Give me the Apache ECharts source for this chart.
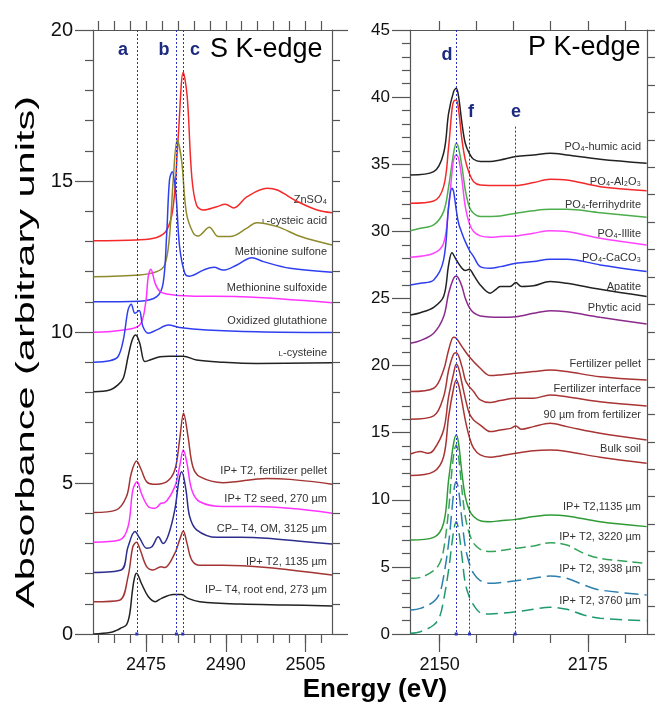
<!DOCTYPE html>
<html lang="en">
<head>
<meta charset="UTF-8">
<title>S and P K-edge XANES</title>
<script src="https://cdn.jsdelivr.net/npm/echarts@6/dist/echarts.min.js"></script>
<style>
    html, body { margin: 0; padding: 0; background: #fff; }
    #chart { width: 655px; height: 713px; }
</style>
</head>
<body>
<div id="chart"></div>
<script>
// ---------------- S K-edge spectra [energy eV, absorbance] ----------------
const znso4 = [[2465.1,13.02],[2473.2,13.05],[2477.0,13.13],[2478.9,13.38],[2480.1,14.15],[2481.05,16.47],[2482.0,18.6],[2482.74,17.79],[2483.6,15.14],[2484.5,14.2],[2485.8,14.04],[2488.3,14.15],[2489.9,14.23],[2491.5,14.11],[2494.0,14.48],[2497.8,14.76],[2499.7,14.7],[2503.5,14.32],[2507.2,14.04],[2510,13.95]];
const cysteicAcid = [[2465.1,11.83],[2473.8,11.89],[2477.0,12.0],[2478.5,12.22],[2479.4,13.16],[2480.1,15.03],[2480.85,16.36],[2481.67,15.7],[2482.6,13.93],[2483.9,13.27],[2484.8,13.18],[2486.9,13.47],[2488.6,13.16],[2490.8,13.16],[2494.0,13.44],[2495.8,13.62],[2499.7,13.49],[2504.1,13.16],[2510,12.88]];
const methSulfone = [[2465.1,11.0],[2473.8,11.02],[2477.0,11.17],[2478.2,11.61],[2478.85,13.16],[2479.4,15.03],[2479.9,15.31],[2480.6,14.59],[2481.3,12.83],[2482.3,11.94],[2483.2,11.85],[2485.8,12.05],[2487.8,12.14],[2489.5,12.05],[2492.1,12.22],[2494.9,12.46],[2497.1,12.33],[2502.1,12.11],[2510,11.98]];
const methSulfoxide = [[2465.1,9.99],[2470.7,10.07],[2473.8,10.23],[2474.9,10.95],[2475.4,11.83],[2475.9,12.08],[2476.7,11.61],[2477.6,11.34],[2478.85,11.26],[2483.2,11.19],[2492.7,11.17],[2510,10.97]];
const oxGlutathione = [[2465.1,9.0],[2468.15,9.05],[2469.7,9.18],[2470.7,9.73],[2471.6,10.73],[2472.2,10.92],[2472.9,10.62],[2473.7,10.71],[2474.4,10.18],[2475.4,9.96],[2477.0,10.07],[2479.2,10.23],[2481.3,10.15],[2486.4,10.07],[2495.8,10.01],[2510,9.98]];
const cysteine = [[2465.1,8.02],[2468.15,8.08],[2469.7,8.25],[2470.7,8.47],[2471.6,9.18],[2472.4,9.74],[2473.05,9.9],[2473.8,9.63],[2474.75,9.02],[2475.7,9.07],[2477.6,9.18],[2479.4,9.2],[2482.0,9.2],[2484.5,9.07],[2489.5,9.0],[2495.8,8.96],[2510,8.98]];
const sPellet = [[2465.1,4.02],[2469.4,4.11],[2471.3,4.55],[2472.2,5.32],[2473.2,5.73],[2474.1,5.43],[2475.1,5.04],[2476.3,4.96],[2478.85,5.04],[2480.4,5.43],[2481.3,6.42],[2482.05,7.31],[2482.9,6.53],[2483.8,5.54],[2485.1,5.21],[2489.5,5.01],[2497.7,5.15],[2502.1,5.12],[2510,4.96]];
const sSeed = [[2465.1,3.04],[2470.0,3.11],[2471.6,3.55],[2472.5,4.77],[2473.3,5.04],[2474.1,4.66],[2475.4,4.22],[2476.7,4.16],[2477.8,4.33],[2478.5,4.35],[2480.4,4.88],[2481.3,5.54],[2482.0,6.09],[2482.7,5.65],[2483.6,4.77],[2485.1,4.38],[2489.5,4.22],[2495.8,4.22],[2510,4.0]];
const sCpOm = [[2465.1,2.04],[2470.3,2.12],[2471.6,2.89],[2472.9,3.39],[2473.8,3.17],[2475.1,2.84],[2476.1,2.89],[2477.3,3.22],[2478.2,3.0],[2479.2,3.28],[2480.4,4.11],[2481.2,5.1],[2481.7,5.37],[2482.5,4.77],[2483.2,3.89],[2484.5,3.45],[2488.3,3.2],[2492.7,3.2],[2497.7,3.17],[2503.5,3.08],[2510,2.98]];
const s1135 = [[2465.1,1.07],[2470.0,1.12],[2471.6,1.9],[2472.5,2.89],[2473.2,3.04],[2473.9,2.78],[2475.1,2.23],[2476.3,2.12],[2477.8,2.23],[2478.5,2.2],[2480.4,2.67],[2481.3,3.11],[2482.0,3.41],[2482.7,3.0],[2483.6,2.45],[2485.1,2.28],[2489.5,2.28],[2497.7,2.2],[2510,1.95]];
const sRootEnd = [[2465.1,0.0],[2468.2,0.05],[2469.4,0.12],[2470.3,0.2],[2471.3,0.3],[2471.9,0.65],[2472.4,1.4],[2472.8,1.85],[2473.2,2.01],[2474.1,1.68],[2475.4,1.24],[2476.7,1.07],[2477.9,1.18],[2480.1,1.31],[2481.7,1.31],[2482.9,1.18],[2485.1,1.07],[2492.7,0.99],[2501.2,0.96],[2510,0.93]];

// ---------------- P K-edge spectra ----------------
const humic = [[2145.06,34.2],[2149.0,34.45],[2150.67,35.82],[2151.52,38.8],[2152.36,40.41],[2152.81,40.66],[2153.2,40.04],[2153.77,38.05],[2154.33,36.56],[2155.0,35.82],[2155.73,35.37],[2156.86,35.2],[2158.54,35.2],[2160.23,35.32],[2162.87,35.57],[2165.84,35.69],[2168.65,35.82],[2171.46,35.69],[2177.08,35.37],[2184.94,35.07]];
const al2o3 = [[2145.06,32.09],[2149.0,32.26],[2150.67,33.33],[2151.52,36.31],[2152.08,39.05],[2152.36,39.67],[2152.81,39.79],[2153.2,39.05],[2153.77,36.81],[2154.33,35.32],[2155.0,34.33],[2155.73,33.7],[2156.86,33.46],[2160.23,33.41],[2162.87,33.41],[2165.84,33.63],[2168.65,33.88],[2171.46,33.83],[2177.08,33.33],[2184.94,33.03]];
const ferrihydrite = [[2145.06,30.05],[2146.75,30.23],[2149.0,30.48],[2150.67,31.47],[2151.52,33.33],[2152.36,35.82],[2152.81,36.56],[2153.2,36.19],[2153.77,34.82],[2154.33,33.08],[2155.0,31.84],[2155.73,31.35],[2156.86,31.1],[2160.23,31.15],[2162.87,31.35],[2165.84,31.54],[2168.65,31.64],[2171.46,31.64],[2177.08,31.39],[2184.94,31.05]];
const illite = [[2145.06,28.07],[2149.0,28.37],[2150.67,29.11],[2151.52,31.84],[2152.08,34.33],[2152.36,35.32],[2152.81,35.69],[2153.2,35.45],[2153.77,33.83],[2154.33,31.84],[2155.0,30.6],[2155.73,29.98],[2156.86,29.66],[2158.54,29.56],[2160.23,29.61],[2162.87,29.66],[2165.84,29.86],[2168.65,30.05],[2171.46,29.98],[2177.08,29.48],[2184.94,28.99]];
const caco3 = [[2145.06,26.01],[2146.75,26.13],[2149.0,26.38],[2150.67,27.87],[2151.52,31.84],[2152.08,33.21],[2152.36,32.96],[2152.81,31.59],[2153.2,30.6],[2153.77,29.86],[2154.33,29.23],[2155.0,28.61],[2155.73,28.12],[2156.86,27.37],[2158.54,27.25],[2160.23,27.37],[2162.87,27.62],[2165.84,27.75],[2168.65,27.92],[2171.46,27.92],[2177.08,27.5],[2184.94,27.0]];
const apatite = [[2145.06,23.77],[2146.75,23.94],[2149.0,24.34],[2150.67,25.14],[2151.52,27.5],[2152.08,28.41],[2152.81,27.87],[2153.77,27.25],[2154.33,27.08],[2155.0,27.18],[2155.73,26.75],[2156.86,26.01],[2158.54,25.39],[2159.4,25.64],[2160.23,25.89],[2161.9,25.89],[2162.87,26.18],[2163.8,25.89],[2165.84,25.94],[2168.65,26.26],[2171.46,26.13],[2177.08,25.68],[2184.94,25.14]];
const phytic = [[2145.06,21.66],[2146.75,21.86],[2149.0,22.41],[2150.67,23.64],[2151.52,25.39],[2152.36,26.5],[2152.81,26.67],[2153.2,26.5],[2153.77,25.89],[2154.33,25.01],[2155.0,24.34],[2155.73,23.94],[2156.86,23.7],[2160.23,23.6],[2162.87,23.64],[2165.84,23.89],[2168.65,24.09],[2171.46,24.0],[2177.08,23.6],[2184.94,23.1]];
const fertPellet = [[2145.06,18.06],[2149.0,18.31],[2150.67,19.67],[2151.52,21.16],[2152.36,22.11],[2152.81,22.03],[2153.77,21.41],[2155.0,20.66],[2156.86,19.8],[2158.54,19.25],[2160.23,19.3],[2162.87,19.42],[2165.84,19.55],[2168.65,19.67],[2171.46,19.55],[2177.08,19.17],[2184.94,18.93]];
const fertInterface = [[2145.06,16.0],[2149.0,16.25],[2150.67,17.68],[2151.52,19.67],[2152.36,20.86],[2152.81,20.96],[2153.77,19.92],[2154.33,18.93],[2155.0,18.43],[2155.73,18.06],[2156.86,17.44],[2158.54,17.24],[2160.23,17.39],[2162.87,17.56],[2165.84,17.56],[2168.65,17.81],[2171.46,17.68],[2177.08,17.31],[2184.94,16.99]];
const from90um = [[2145.06,13.41],[2146.75,13.6],[2148.0,13.47],[2149.0,13.71],[2150.67,15.2],[2151.52,17.68],[2152.36,19.42],[2152.81,20.1],[2153.2,19.8],[2153.77,18.68],[2154.33,17.56],[2155.0,16.44],[2155.73,15.95],[2156.86,15.57],[2158.54,15.08],[2160.23,15.2],[2162.0,15.32],[2162.87,15.5],[2163.8,15.25],[2165.84,15.45],[2168.65,15.7],[2171.46,15.45],[2177.08,14.95],[2184.94,14.46]];
const bulkSoil = [[2145.06,11.8],[2149.0,12.1],[2150.67,13.21],[2151.52,16.2],[2152.36,18.31],[2152.81,18.93],[2153.2,18.55],[2153.77,17.31],[2154.33,15.95],[2155.0,14.7],[2155.73,13.84],[2156.86,13.34],[2158.54,13.17],[2160.23,13.26],[2162.87,13.47],[2165.84,13.66],[2168.65,13.71],[2171.46,13.6],[2177.08,13.17],[2184.94,12.72]];
const p1135 = [[2145.06,7.0],[2149.0,7.2],[2150.67,8.25],[2151.52,11.48],[2152.36,14.21],[2152.81,14.83],[2153.2,14.21],[2153.77,11.97],[2154.33,10.23],[2155.0,9.24],[2155.73,8.75],[2156.86,8.44],[2158.54,8.37],[2160.23,8.44],[2162.87,8.54],[2165.84,8.75],[2168.65,8.87],[2171.46,8.8],[2177.08,8.37],[2184.94,8.0]];
const p3220 = [[2145.06,4.15],[2146.75,4.22],[2149.0,4.72],[2150.0,5.27],[2150.67,6.26],[2151.52,9.24],[2152.08,12.22],[2152.5,13.71],[2152.81,14.08],[2153.2,13.21],[2153.77,10.73],[2154.33,8.75],[2155.0,7.5],[2155.73,6.76],[2156.86,6.31],[2158.54,6.14],[2160.23,6.21],[2162.87,6.38],[2165.84,6.56],[2168.65,6.8],[2171.46,6.63],[2174.3,6.01],[2177.08,5.64],[2184.94,5.27]];
const p3938 = [[2145.06,1.79],[2146.75,1.91],[2149.0,2.41],[2150.0,3.03],[2150.67,4.27],[2151.52,6.76],[2152.08,9.24],[2152.5,10.98],[2152.81,11.35],[2153.2,10.73],[2153.77,8.49],[2154.33,6.51],[2155.0,5.27],[2155.73,4.52],[2156.86,3.97],[2158.54,3.78],[2160.23,3.83],[2162.87,3.97],[2165.84,4.15],[2168.65,4.32],[2171.46,4.15],[2174.3,3.66],[2177.08,3.28],[2184.94,2.91]];
const p3760 = [[2145.06,0.05],[2146.75,0.17],[2149.0,0.67],[2150.0,1.29],[2150.67,2.53],[2151.52,4.77],[2152.08,6.76],[2152.5,8.0],[2152.81,8.37],[2153.2,7.75],[2153.77,5.76],[2154.33,3.78],[2155.0,2.78],[2155.73,2.16],[2156.86,1.59],[2158.54,1.49],[2160.23,1.54],[2162.87,1.66],[2165.84,1.84],[2168.65,1.99],[2171.46,1.84],[2174.3,1.42],[2177.08,1.17],[2184.94,0.99]];

// ---------------- axes ----------------
const sMajorTicks = [2475, 2490, 2505];
const sMinorTicks = [2466, 2469, 2472, 2475, 2478, 2481, 2484, 2487, 2490, 2493, 2496, 2499, 2502, 2505, 2508];
const pMajorTicks = [2150, 2175];
const pMinorTicks = [2150, 2156.25, 2162.5, 2168.75, 2175, 2181.25];

// reference lines: [energy, top of line]
const sRefLines = [[2473.25, 20], [2480.7, 20], [2481.9, 20]];
const pRefLines = [[2152.8, 45], [2155.05, 37.8], [2162.75, 37.8]];

const FONT = '"Liberation Sans", Arial, sans-serif';
const AX = '#555';

const chart = echarts.init(document.getElementById('chart'));

function curve(data, color, panel, dash) {
    return {
        type: 'line',
        data: data,
        xAxisIndex: panel === 0 ? 0 : 3,
        yAxisIndex: panel === 0 ? 0 : 2,
        showSymbol: false,
        smooth: 0.35,
        silent: true,
        lineStyle: { color: color, width: 1.5, type: dash || 'solid' },
        z: 3
    };
}

function refLines(lines, panel) {
    return {
        type: 'line',
        data: [],
        xAxisIndex: panel === 0 ? 0 : 3,
        yAxisIndex: panel === 0 ? 0 : 2,
        markLine: {
            silent: true,
            symbol: ['none', 'rect'],
            symbolSize: 3,
            label: { show: false },
            lineStyle: { color: '#2a34b8', width: 1, type: [2, 2] },
            data: lines.map(l => [{ coord: [l[0], l[1]] }, { coord: [l[0], 0] }])
        },
        z: 2
    };
}

function bottomAxes(grid, min, max, minor, major, labelSize) {
    return [
        {
            gridIndex: grid, type: 'value', min: min, max: max, position: 'bottom',
            axisLine: { show: true, lineStyle: { color: AX, width: 1.2 } },
            axisTick: { show: true, customValues: minor, length: 9, lineStyle: { color: AX, width: 1.2 } },
            axisLabel: { show: false }, splitLine: { show: false }
        },
        {
            gridIndex: grid, type: 'value', min: min, max: max, position: 'bottom',
            axisLine: { show: false },
            axisTick: { show: true, customValues: major, length: 18, lineStyle: { color: AX, width: 1.2 } },
            axisLabel: {
                show: true, customValues: major, fontSize: labelSize, color: '#111',
                fontFamily: FONT, margin: 22, formatter: v => String(v)
            },
            splitLine: { show: false }
        },
        {
            gridIndex: grid, type: 'value', min: min, max: max, position: 'top',
            axisLine: { show: true, lineStyle: { color: AX, width: 1.2 } },
            axisTick: { show: true, customValues: minor, length: 9, lineStyle: { color: AX, width: 1.2 } },
            axisLabel: { show: false }, splitLine: { show: false }
        }
    ];
}

function sideAxes(grid, max, labelSize, rightSplit) {
    return [
        {
            gridIndex: grid, type: 'value', min: 0, max: max, interval: 5, position: 'left',
            axisLine: { show: true, lineStyle: { color: AX, width: 1.2 } },
            axisTick: { show: true, length: 18, lineStyle: { color: AX, width: 1.2 } },
            minorTick: { show: true, splitNumber: 5, length: 8, lineStyle: { color: AX, width: 1.2 } },
            axisLabel: { fontSize: labelSize, color: '#111', fontFamily: FONT, margin: 20 },
            splitLine: { show: false }
        },
        {
            gridIndex: grid, type: 'value', min: 0, max: max, interval: max, position: 'right',
            axisLine: { show: true, lineStyle: { color: AX, width: 1.2 } },
            axisTick: { show: true, length: 16, lineStyle: { color: AX, width: 1.2 } },
            minorTick: { show: true, splitNumber: rightSplit, length: 8, lineStyle: { color: AX, width: 1.2 } },
            axisLabel: { show: false },
            splitLine: { show: false }
        }
    ];
}

// curve labels (text, centre y in px); right-aligned at the panel edge
const sLabels = [
    ['ZnSO₄', 200], ['{sc|L}-cysteic acid', 221], ['Methionine sulfone', 252],
    ['Methionine sulfoxide', 288], ['Oxidized glutathione', 321], ['{sc|L}-cysteine', 353],
    ['IP+ T2, fertilizer pellet', 471], ['IP+ T2 seed, 270 µm', 499], ['CP– T4, OM, 3125 µm', 529],
    ['IP+ T2, 1135 µm', 562], ['IP– T4, root end, 273 µm', 590]
];
const pLabels = [
    ['PO₄-humic acid', 147], ['PO₄-Al₂O₃', 182], ['PO₄-ferrihydrite', 205], ['PO₄-Illite', 234],
    ['PO₄-CaCO₃', 258], ['Apatite', 287], ['Phytic acid', 308], ['Fertilizer pellet', 364],
    ['Fertilizer interface', 389], ['90 µm from fertilizer', 415], ['Bulk soil', 449],
    ['IP+ T2,1135 µm', 507], ['IP+ T2, 3220 µm', 537], ['IP+ T2, 3938 µm', 569], ['IP+ T2, 3760 µm', 601]
];

function labelText(t, x, y) {
    return {
        type: 'text', x: x, y: y, silent: true,
        style: {
            text: t, align: 'right', verticalAlign: 'middle',
            font: '11px ' + FONT, fill: '#333',
            rich: { sc: { fontSize: 8, fontFamily: FONT, fill: '#333', padding: [2, 0, 0, 0] } }
        }
    };
}

function letter(t, x, y) {
    return {
        type: 'text', x: x, y: y, silent: true,
        style: { text: t, align: 'center', verticalAlign: 'middle', font: 'bold 18px ' + FONT, fill: '#1c2a80' }
    };
}

const graphics = []
    .concat(sLabels.map(l => labelText(l[0], 327, l[1])))
    .concat(pLabels.map(l => labelText(l[0], 641, l[1])))
    .concat([
        letter('a', 123, 50), letter('b', 164, 50), letter('c', 195, 50),
        letter('d', 447, 55), letter('f', 471, 112), letter('e', 516, 112),
        { type: 'text', x: 210, y: 50, silent: true,
          style: { text: 'S K-edge', verticalAlign: 'middle', font: '27px ' + FONT, fill: '#000' } },
        { type: 'text', x: 528, y: 48, silent: true,
          style: { text: 'P K-edge', verticalAlign: 'middle', font: '27px ' + FONT, fill: '#000' } },
        { type: 'text', x: 27, y: 352, rotation: Math.PI / 2, scaleX: 1.66, silent: true,
          style: { text: 'Absorbance (arbitrary units)', align: 'center', verticalAlign: 'middle', font: '25px ' + FONT, fill: '#000' } },
        { type: 'text', x: 375, y: 690, silent: true,
          style: { text: 'Energy (eV)', align: 'center', verticalAlign: 'middle', font: 'bold 26px ' + FONT, fill: '#000' } }
    ]);

const option = {
    animation: false,
    backgroundColor: '#fff',
    textStyle: { fontFamily: FONT },
    grid: [
        { left: 93, top: 30, width: 239, height: 604 },
        { left: 410, top: 30, width: 237, height: 604 }
    ],
    xAxis: [].concat(
        bottomAxes(0, 2465, 2510, sMinorTicks, sMajorTicks, 18),
        bottomAxes(1, 2145, 2185, pMinorTicks, pMajorTicks, 18)
    ),
    yAxis: [].concat(
        sideAxes(0, 20, 20, 20),
        sideAxes(1, 45, 17, 22)
    ),
    graphic: graphics,
    series: [
        refLines(sRefLines, 0),
        curve(znso4, '#f42a2a', 0),
        curve(cysteicAcid, '#8e8a2c', 0),
        curve(methSulfone, '#2f3ff0', 0),
        curve(methSulfoxide, '#ff33ff', 0),
        curve(oxGlutathione, '#2f3ff0', 0),
        curve(cysteine, '#222', 0),
        curve(sPellet, '#a33434', 0),
        curve(sSeed, '#ff33ff', 0),
        curve(sCpOm, '#2d2d8e', 0),
        curve(s1135, '#a33434', 0),
        curve(sRootEnd, '#222', 0),

        refLines(pRefLines, 1),
        curve(humic, '#222', 1),
        curve(al2o3, '#f42a2a', 1),
        curve(ferrihydrite, '#4cad4c', 1),
        curve(illite, '#ff44ff', 1),
        curve(caco3, '#2f3ff0', 1),
        curve(apatite, '#222', 1),
        curve(phytic, '#8b2a8b', 1),
        curve(fertPellet, '#a83434', 1),
        curve(fertInterface, '#a83434', 1),
        curve(from90um, '#a83434', 1),
        curve(bulkSoil, '#a83434', 1),
        curve(p1135, '#2f9b36', 1),
        curve(p3220, '#33a35a', 1, [10, 5]),
        curve(p3938, '#2c7fae', 1, [14, 6]),
        curve(p3760, '#1e9a6e', 1, [12, 6])
    ]
};

chart.setOption(option);
</script>
</body>
</html>
